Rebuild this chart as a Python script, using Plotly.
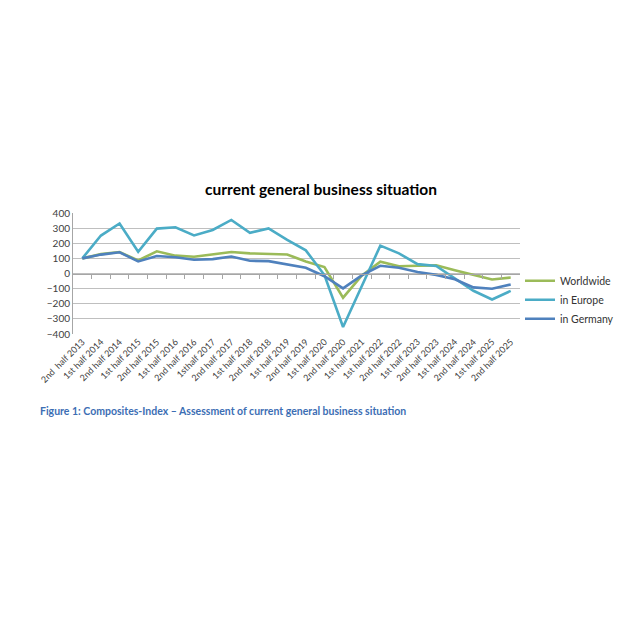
import plotly.graph_objects as go

categories = ["2nd  half 2013", "1st half 2014", "2nd half 2014", "1st half 2015", "2nd half 2015",
              "1st half 2016", "2nd half 2016", "1sthalf 2017", "2nd half 2017", "1st half 2018",
              "2nd half 2018", "1st half 2019", "2nd half 2019", "1st half 2020", "2nd half 2020",
              "1st half 2021", "1st half 2022", "2nd half 2022", "1st half 2023", "2nd half 2023",
              "1st half 2024", "2nd half 2024", "1st half 2025", "2nd half 2025"]

worldwide = [100, 128, 142, 86, 147, 118, 111, 127, 142, 133, 129, 126, 79, 43, -160,
             -15, 78, 48, 51, 54, 22, -10, -40, -27]
europe = [100, 251, 331, 144, 297, 306, 252, 288, 354, 269, 298, 222, 153, -10, -354,
          -88, 184, 133, 62, 50, -33, -114, -172, -115]
germany = [100, 125, 140, 80, 116, 107, 91, 95, 112, 84, 82, 62, 38, -18, -98,
           -12, 51, 38, 10, -9, -38, -92, -101, -73]

y_ticks = [400, 300, 200, 100, 0, -100, -200, -300, -400]

series = [("Worldwide", worldwide, "#9BBB59"),
          ("in Europe", europe, "#4BACC6"),
          ("in Germany", germany, "#4F81BD")]

x_idx = list(range(len(categories)))
fig = go.Figure()
for name, vals, col in series:
    fig.add_trace(go.Scatter(x=x_idx, y=vals, name=name, mode="lines",
                             line=dict(color=col, width=2.6)))

# helper trace for the axis at y=0 carrying tick marks between categories
fig.add_trace(go.Scatter(x=x_idx, y=worldwide, xaxis="x2", yaxis="y", mode="lines",
                         line=dict(width=0, color="rgba(0,0,0,0)"), showlegend=False,
                         hoverinfo="skip"))

font_family = "Lato, Open Sans, sans-serif"
W, H = 622, 612

fig.update_layout(
    width=W, height=H,
    paper_bgcolor="white", plot_bgcolor="white",
    margin=dict(l=65, r=110, t=205, b=286, autoexpand=False),
    title=dict(text="<b>current general business situation</b>", x=313 / W, xref="container",
               xanchor="center", y=1 - 182 / H, yref="container", yanchor="middle",
               font=dict(family=font_family, size=15.5, color="black")),
    font=dict(family=font_family, size=10, color="#404040"),
    showlegend=True,
    legend=dict(x=1.0, y=0.56, xanchor="left", yanchor="top", bgcolor="rgba(0,0,0,0)",
                font=dict(size=10.5, color="#333333"), itemwidth=30, tracegroupgap=0),
    xaxis=dict(range=[-0.5, len(categories) - 0.5], tickmode="array", tickvals=x_idx,
               ticktext=categories, tickangle=-45, showgrid=False, zeroline=False,
               showline=False, ticks="", automargin=False,
               tickfont=dict(size=9, color="#404040")),
    xaxis2=dict(range=[-0.5, len(categories) - 0.5], overlaying="x", anchor="free",
                position=0.5, side="bottom", showgrid=False, zeroline=False,
                showline=True, linecolor="#A6A6A6", linewidth=1, automargin=False,
                tickmode="array", tickvals=[i + 0.5 for i in x_idx[:-1]],
                ticks="outside", ticklen=4, tickcolor="#A6A6A6", showticklabels=False),
    yaxis=dict(range=[-400, 400], tickmode="array", tickvals=y_ticks, automargin=False,
               showgrid=True, gridcolor="#BFBFBF", gridwidth=1, zeroline=False,
               showline=True, linecolor="#A6A6A6", linewidth=1, ticks="",
               tickfont=dict(size=10, color="#404040")),
)

fig.add_annotation(text="<b>Figure 1: Composites-Index \u2013 Assessment of current general business situation</b>",
                   xref="paper", yref="paper", x=(38 - 73) / 447, y=(334 - 411) / 121,
                   xanchor="left", yanchor="middle", showarrow=False,
                   font=dict(family=font_family, size=10.5, color="#3C6EB4"))

fig.write_html("out.html")
